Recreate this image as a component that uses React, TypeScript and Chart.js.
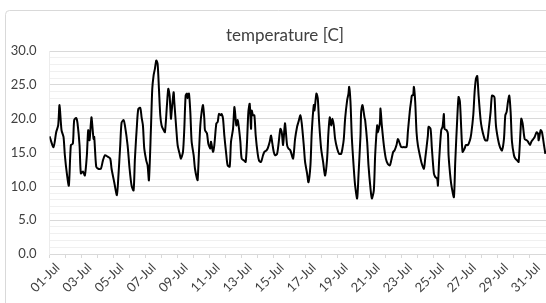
import React, { useEffect, useRef } from 'react';
import { Chart, registerables } from 'chart.js';

Chart.register(...registerables);

const titleText = 'temperature [C]';

const dayLabels = [
  '01-Jul', '03-Jul', '05-Jul', '07-Jul', '09-Jul', '11-Jul', '13-Jul', '15-Jul',
  '17-Jul', '19-Jul', '21-Jul', '23-Jul', '25-Jul', '27-Jul', '29-Jul', '31-Jul',
];

// hours since 01-Jul 00:00
const hours = [
  0, 6, 10, 13, 15, 18, 21, 23, 26, 29, 32, 35, 37, 40, 42, 45, 47, 50, 53, 56,
  58, 60, 62, 63, 66, 67, 70, 73, 77, 80, 83, 87, 91, 93, 97, 101, 103, 106, 108, 111,
  113, 117, 120, 123, 126, 128, 131, 133, 136, 138, 140, 142, 145, 147, 149, 152, 154, 156, 158, 160,
  162, 164, 166, 168, 171, 173, 176, 178, 180, 182, 183, 186, 187, 190, 192, 195, 197, 200, 202, 204,
  206, 207, 209, 211, 213, 216, 218, 221, 222, 224, 226, 228, 230, 232, 233, 236, 238, 241, 242, 245,
  247, 250, 252, 254, 257, 258, 260, 262, 265, 267, 270, 272, 275, 277, 278, 280, 282, 284, 286, 288,
  292, 294, 296, 298, 300, 302, 303, 305, 307, 309, 312, 314, 317, 320, 322, 325, 327, 330, 332, 334,
  336, 338, 341, 343, 346, 348, 350, 352, 353, 356, 358, 361, 365, 368, 371, 373, 376, 378, 381, 383,
  386, 388, 391, 393, 396, 397, 400, 402, 404, 407, 410, 413, 416, 418, 420, 422, 424, 426, 428, 431,
  434, 437, 439, 441, 443, 446, 448, 449, 451, 453, 456, 458, 461, 463, 466, 467, 469, 472, 473, 476,
  478, 481, 483, 486, 488, 491, 492, 495, 496, 498, 501, 504, 507, 510, 512, 515, 517, 520, 522, 525,
  527, 531, 535, 537, 540, 542, 543, 545, 546, 548, 550, 552, 556, 558, 561, 563, 567, 568, 571, 573,
  576, 578, 581, 582, 584, 587, 589, 591, 592, 595, 597, 598, 601, 603, 606, 608, 611, 613, 615, 617,
  619, 622, 624, 627, 630, 632, 635, 637, 639, 641, 643, 646, 648, 651, 653, 656, 658, 661, 663, 666,
  667, 669, 672, 675, 678, 681, 683, 685, 687, 689, 691, 693, 696, 698, 701, 703, 706, 707, 709, 712,
  715, 717, 720, 722, 725, 727, 730, 732, 733, 736, 738, 741, 743,
];

const temps = [
  17.4, 15.8, 18.0, 19.0, 22.0, 18.3, 17.3, 14.6, 11.9, 10.1, 16.1, 16.3, 19.8, 20.1, 19.3, 16.1, 11.9, 12.2, 11.6, 14.6,
  18.3, 16.8, 19.3, 20.2, 17.0, 17.3, 12.9, 12.6, 12.6, 13.8, 14.6, 14.4, 14.1, 12.6, 10.6, 8.7, 11.1, 16.1, 19.4, 19.8,
  19.0, 16.1, 12.6, 10.1, 9.4, 14.1, 19.0, 21.4, 21.6, 20.2, 19.0, 15.6, 13.8, 13.1, 10.9, 18.5, 24.4, 26.4, 27.4, 28.6,
  28.1, 24.4, 20.5, 19.0, 18.3, 18.0, 22.0, 24.4, 23.4, 20.0, 21.0, 23.9, 22.5, 18.5, 16.1, 14.8, 14.1, 15.1, 18.5, 23.4,
  23.7, 23.0, 23.7, 21.0, 16.6, 14.6, 12.6, 11.1, 10.9, 15.1, 19.0, 21.0, 22.0, 20.0, 18.3, 17.8, 16.3, 15.6, 16.6, 15.1,
  16.1, 19.3, 19.5, 20.7, 20.5, 20.7, 20.0, 17.5, 14.6, 13.1, 12.9, 16.6, 18.5, 21.7, 21.0, 19.0, 19.8, 18.5, 16.6, 14.1,
  13.8, 13.6, 16.6, 21.0, 22.2, 18.5, 21.2, 20.5, 20.5, 17.5, 14.8, 13.8, 13.6, 14.6, 15.1, 15.3, 15.6, 16.6, 17.5, 16.3,
  15.1, 14.6, 14.8, 16.1, 18.5, 18.0, 16.1, 18.5, 19.3, 16.1, 15.6, 15.3, 14.1, 17.0, 18.8, 19.5, 20.5, 19.3, 16.1, 13.6,
  11.9, 10.6, 13.1, 18.0, 22.0, 21.2, 23.7, 23.0, 19.5, 15.6, 13.6, 11.6, 14.1, 18.0, 20.2, 19.0, 20.0, 19.0, 17.0, 15.6,
  14.8, 14.8, 15.6, 17.0, 20.0, 22.7, 23.7, 24.7, 22.5, 17.3, 12.6, 10.1, 8.2, 11.6, 17.5, 21.0, 22.0, 20.2, 19.8, 16.6,
  13.1, 9.7, 8.2, 9.4, 14.6, 19.0, 18.0, 19.3, 21.5, 19.0, 16.1, 14.1, 13.3, 13.1, 13.8, 15.1, 15.3, 16.1, 17.0, 16.3,
  15.8, 15.8, 15.8, 18.0, 21.2, 22.7, 23.4, 23.5, 24.7, 22.5, 18.0, 16.1, 14.1, 13.3, 12.6, 14.1, 17.5, 18.8, 18.5, 15.6,
  11.9, 11.4, 11.1, 10.1, 14.1, 18.3, 18.8, 20.7, 18.5, 18.3, 17.8, 14.6, 11.1, 9.7, 8.4, 13.6, 20.0, 23.2, 22.5, 18.5,
  15.1, 15.6, 16.1, 16.1, 16.8, 17.8, 20.5, 23.9, 25.9, 26.3, 23.4, 19.8, 18.5, 17.3, 16.8, 16.8, 18.3, 21.0, 23.4, 23.3,
  23.0, 19.0, 17.0, 15.8, 15.3, 17.0, 20.5, 21.0, 22.5, 23.4, 21.0, 16.6, 14.6, 14.1, 13.8, 13.6, 18.5, 20.0, 19.3, 17.0,
  16.8, 16.6, 16.1, 16.6, 17.0, 17.3, 18.0, 17.8, 16.8, 18.3, 18.0, 16.1, 14.8,
];

const FONT = 'Lato, "Open Sans", sans-serif';

const framePlugin = {
  id: 'frame',
  beforeDraw(chart: any) {
    const ctx = chart.ctx;
    ctx.save();
    ctx.fillStyle = '#ffffff';
    ctx.fillRect(0, 0, chart.width, chart.height);
    ctx.strokeStyle = '#d9d9d9';
    ctx.lineWidth = 1;
    ctx.beginPath();
    ctx.moveTo(5.5, chart.height + 5);
    ctx.lineTo(5.5, 14.5);
    ctx.arcTo(5.5, 10.5, 9.5, 10.5, 4);
    ctx.lineTo(chart.width + 5, 10.5);
    ctx.stroke();
    ctx.restore();
  },
};

const titlePlugin = {
  id: 'customTitle',
  afterDraw(chart: any) {
    const ctx = chart.ctx;
    ctx.save();
    ctx.font = `17px ${FONT}`;
    ctx.fillStyle = '#404040';
    ctx.textAlign = 'center';
    ctx.textBaseline = 'alphabetic';
    ctx.fillText(titleText, 285, 41);
    ctx.restore();
  },
};

export default function App() {
  const ref = useRef<HTMLCanvasElement>(null);

  useEffect(() => {
    const canvas = ref.current;
    if (!canvas) return;
    const points = hours.map((h, i) => ({ x: h, y: temps[i] }));
    const chart = new Chart(canvas, {
      type: 'line',
      data: {
        datasets: [
          {
            data: points,
            borderColor: '#000000',
            borderWidth: 2,
            pointRadius: 0,
            tension: 0.25,
            fill: false,
            borderJoinStyle: 'round',
          },
        ],
      },
      options: {
        responsive: false,
        animation: false,
        layout: { padding: { top: 51, left: 0, right: 0, bottom: 0 } },
        plugins: {
          legend: { display: false },
          title: { display: false },
          tooltip: { enabled: false },
        },
        scales: {
          x: {
            type: 'linear',
            min: 0,
            max: 744,
            afterFit: (s: any) => {
              s.height = 49;
              s.paddingRight = 0;
              s.paddingLeft = 0;
            },
            ticks: {
              stepSize: 24,
              autoSkip: false,
              maxRotation: 45,
              minRotation: 45,
              labelOffset: 8,
              padding: 2,
              color: '#404040',
              font: { family: FONT, size: 13 },
              callback: (v: any) => {
                const n = Number(v);
                if (n % 48 !== 0) return '';
                const idx = n / 48;
                return idx < dayLabels.length ? dayLabels[idx] : '';
              },
            },
            grid: {
              drawOnChartArea: false,
              drawTicks: true,
              tickLength: 4,
              color: '#d9d9d9',
            },
            border: { color: '#d9d9d9' },
          },
          y: {
            min: 0,
            max: 30,
            afterFit: (s: any) => {
              s.width = 49.5;
            },
            ticks: {
              stepSize: 1,
              autoSkip: false,
              padding: 13,
              color: '#404040',
              font: { family: FONT, size: 13 },
              callback: (v: any) => {
                const n = Number(v);
                return n % 5 === 0 ? n.toFixed(1) : '';
              },
            },
            grid: {
              drawTicks: false,
              color: (c: any) =>
                c.tick && Number(c.tick.value) % 5 === 0 ? '#d9d9d9' : '#f0f0f0',
            },
            border: { display: true, color: '#ececec' },
          },
        },
      },
      plugins: [framePlugin, titlePlugin],
    });
    return () => chart.destroy();
  }, []);

  return (
    <div style={{ position: 'absolute', left: 0, top: 0, width: 546, height: 303, background: '#fff' }}>
      <canvas ref={ref} width={546} height={303} style={{ display: 'block' }} />
    </div>
  );
}
